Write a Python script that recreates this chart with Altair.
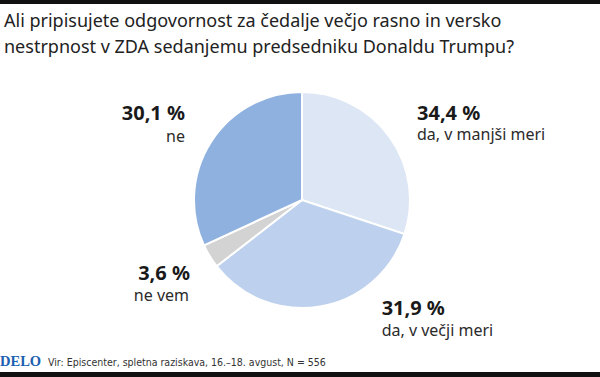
import altair as alt
import pandas as pd

# ---- data ----
categories = ["da, v manjši meri", "da, v večji meri", "ne vem", "ne"]
pct_labels = ["34,4 %", "31,9 %", "3,6 %", "30,1 %"]
# angular size of each slice as drawn in the picture (clockwise from 12 o'clock)
slice_share = [30.1, 34.4, 3.6, 31.9]
slice_colors = ["#dce6f5", "#bdd0ed", "#d3d3d3", "#8fb1df"]

title_lines = [
    "Ali pripisujete odgovornost za čedalje večjo rasno in versko",
    "nestrpnost v ZDA sedanjemu predsedniku Donaldu Trumpu?",
]
brand = "DELO"
source = "Vir: Episcenter, spletna raziskava, 16.–18. avgust, N = 556"

df = pd.DataFrame({
    "idx": list(range(len(categories))),
    "cat": categories,
    "pct": pct_labels,
    "share": slice_share,
})

CX, CY, R = 302, 200, 108
FONT = "Noto Sans"

base = alt.Chart(df)

pie = base.mark_arc(outerRadius=R, stroke="white", strokeWidth=2).encode(
    theta=alt.Theta("share:Q", stack=True, scale=alt.Scale(domain=[0, 100])),
    color=alt.Color("cat:N", scale=alt.Scale(domain=categories, range=slice_colors), legend=None),
    order=alt.Order("idx:Q"),
    x=alt.value(CX),
    y=alt.value(CY),
)

mid_base = base.transform_window(
    cum="sum(share)", sort=[alt.SortField("idx")], frame=[None, 0]
).transform_calculate(mid="datum.cum - datum.share / 2")

# per label: (align, dx, dy_bold, dx2, dy_cat)
offsets = {
    0: ("left", 1.5, 1.5, 1.5, 22),
    1: ("left", 56, -22.5, 56, -2),
    2: ("right", 7.6, 7, 6.6, 28),
    3: ("right", 1, -5, 1, 17),
}

labels = []
for i, (align, dx1, dy1, dx2, dy2) in offsets.items():
    sub = mid_base.transform_filter(alt.datum.idx == i)
    enc = dict(
        theta=alt.Theta("mid:Q", stack=None, scale=alt.Scale(domain=[0, 100])),
        radius=alt.value(140),
        x=alt.value(CX),
        y=alt.value(CY),
    )
    labels.append(
        sub.mark_text(align=align, baseline="alphabetic", dx=dx1, dy=dy1,
                      font=FONT, fontSize=20, fontWeight="bold", color="#1a1a1a")
        .encode(text="pct:N", **enc)
    )
    labels.append(
        sub.mark_text(align=align, baseline="alphabetic", dx=dx2, dy=dy2,
                      font=FONT, fontSize=16, color="#2b2b2b")
        .encode(text="cat:N", **enc)
    )

tdf = pd.DataFrame({"line": title_lines, "n": [0, 1]})
title_layers = []
for n in range(len(title_lines)):
    title_layers.append(
        alt.Chart(tdf).transform_filter(alt.datum.n == n).mark_text(
            align="left", baseline="alphabetic", font=FONT, fontSize=18, color="#222222"
        ).encode(text="line:N", x=alt.value(4), y=alt.value(27 + 26 * n))
    )

one = alt.Chart(pd.DataFrame({"brand": [brand], "src": [source]}))
top_band = one.mark_rect(color="#111111").encode(
    x=alt.value(0), x2=alt.value(600), y=alt.value(0), y2=alt.value(4))
bottom_band = one.mark_rect(color="#111111").encode(
    x=alt.value(0), x2=alt.value(600), y=alt.value(372), y2=alt.value(377))
brand_txt = one.mark_text(
    align="left", baseline="alphabetic", font="Liberation Serif", fontSize=14.5,
    fontWeight="bold", color="#1d5fb0"
).encode(text="brand:N", x=alt.value(0), y=alt.value(366))
src_txt = one.mark_text(
    align="left", baseline="alphabetic", font="DejaVu Sans Condensed",
    fontSize=10.5, color="#333333"
).encode(text="src:N", x=alt.value(48), y=alt.value(366))

chart = alt.layer(
    pie, *labels, *title_layers, top_band, bottom_band, brand_txt, src_txt
).properties(
    width=600, height=377, padding=0, autosize=alt.AutoSizeParams(type="none"),
    background="white",
).configure_view(stroke=None)

chart.save("out.html", embed_options={"renderer": "svg", "actions": False})
